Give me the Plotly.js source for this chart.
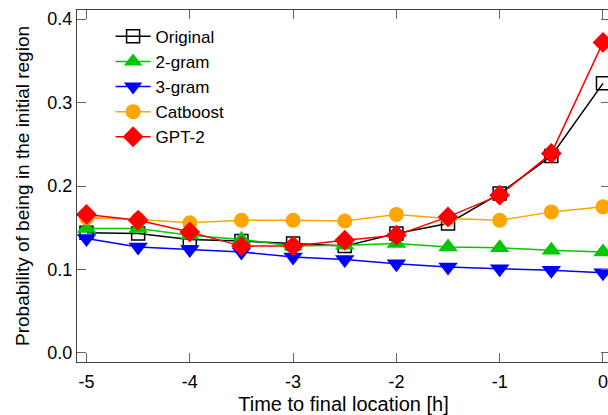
<!DOCTYPE html>
<html>
<head>
<meta charset="utf-8">
<script src="https://cdn.plot.ly/plotly-3.0.1.min.js"></script>
<style>
html,body{margin:0;padding:0;overflow:hidden;background:#fff;}
#chart{width:612px;height:415px;}
</style>
</head>
<body>
<div id="chart"></div>
<script>
const hours = [-5, -4.5, -4, -3.5, -3, -2.5, -2, -1.5, -1, -0.5, 0];
const original = [0.144, 0.143, 0.136, 0.134, 0.131, 0.128, 0.143, 0.155, 0.191, 0.236, 0.323];
const gram2    = [0.149, 0.149, 0.141, 0.136, 0.128, 0.129, 0.131, 0.127, 0.126, 0.123, 0.121];
const gram3    = [0.137, 0.127, 0.124, 0.121, 0.115, 0.112, 0.107, 0.103, 0.101, 0.099, 0.096];
const catboost = [0.162, 0.160, 0.156, 0.159, 0.159, 0.158, 0.166, 0.161, 0.159, 0.169, 0.175];
const gpt2     = [0.166, 0.159, 0.145, 0.128, 0.128, 0.135, 0.141, 0.163, 0.189, 0.239, 0.372];
const seriesNames = ['Original', '2-gram', '3-gram', 'Catboost', 'GPT-2'];
const xTicks = [-5, -4, -3, -2, -1, 0];
const yTicks = [0, 0.1, 0.2, 0.3, 0.4];
const yTickText = ['0.0', '0.1', '0.2', '0.3', '0.4'];

const font = 'Liberation Sans, Arial, sans-serif';

const traces = [
  {x: hours, y: original, name: seriesNames[0], mode: 'lines+markers',
   line: {color: '#000000', width: 1.5},
   marker: {symbol: 'square-open', size: 13, color: '#000000', line: {width: 1.5, color: '#000000'}}},
  {x: hours, y: gram2, name: seriesNames[1], mode: 'lines+markers',
   line: {color: '#00c800', width: 1.5},
   marker: {symbol: 'triangle-up', size: 17, color: '#00c800'}},
  {x: hours, y: gram3, name: seriesNames[2], mode: 'lines+markers',
   line: {color: '#0000ff', width: 1.5},
   marker: {symbol: 'triangle-down', size: 17, color: '#0000ff'}},
  {x: hours, y: catboost, name: seriesNames[3], mode: 'lines+markers',
   line: {color: '#ffa500', width: 1.5},
   marker: {symbol: 'circle', size: 15, color: '#ffa500'}},
  {x: hours, y: gpt2, name: seriesNames[4], mode: 'lines+markers',
   line: {color: '#ff0000', width: 1.5},
   marker: {symbol: 'diamond', size: 16, color: '#ff0000'}}
];

const layout = {
  width: 612, height: 415,
  margin: {l: 77, r: 2, t: 10, b: 53},
  paper_bgcolor: '#ffffff', plot_bgcolor: '#ffffff',
  font: {family: font, size: 18, color: '#000000'},
  showlegend: true,
  legend: {x: 0.063, y: 0.975, xanchor: 'left', yanchor: 'top',
           bgcolor: 'rgba(0,0,0,0)', font: {family: font, size: 17, color: '#000'},
           itemwidth: 35, tracegroupgap: 0},
  xaxis: {
    range: [-5.092, 0.068], tickvals: xTicks, ticktext: xTicks.map(String),
    showgrid: false, zeroline: false, showline: true, linecolor: '#444', linewidth: 1,
    mirror: 'ticks', ticks: 'inside', ticklen: 9, tickcolor: '#666', tickwidth: 1,
    tickfont: {family: font, size: 18}, ticklabelstandoff: 3,
    title: {text: 'Time to final location [h]', font: {family: font, size: 20}, standoff: 10}
  },
  yaxis: {
    range: [-0.0108, 0.4108], tickvals: yTicks, ticktext: yTickText,
    showgrid: false, zeroline: false, showline: true, linecolor: '#444', linewidth: 1,
    mirror: 'ticks', ticks: 'inside', ticklen: 9, tickcolor: '#666', tickwidth: 1,
    tickfont: {family: font, size: 18},
    title: {text: 'Probability of being in the initial region', font: {family: font, size: 19}, standoff: 12}
  }
};

Plotly.newPlot('chart', traces, layout, {displayModeBar: false, staticPlot: true});
</script>
</body>
</html>
